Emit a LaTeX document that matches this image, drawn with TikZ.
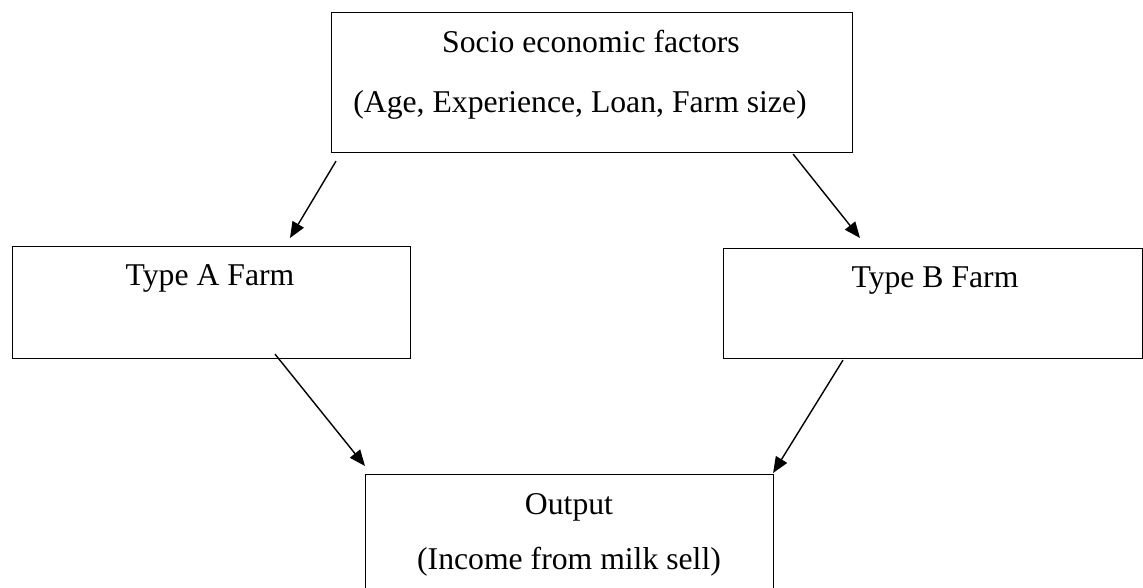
\documentclass[tikz,border=0pt]{standalone}
\usepackage{fontspec}
\setmainfont{Liberation Serif}
\usetikzlibrary{arrows.meta}
\begin{document}
\begin{tikzpicture}[x=1pt,y=-1pt,
  box/.style={draw=black, line width=1.1pt, rectangle, inner sep=0pt, anchor=north west},
  lbl/.style={anchor=base, inner sep=0pt, font=\fontsize{31.7pt}{38pt}\selectfont},
  arr/.style={line width=1.4pt, -{Triangle[length=16pt,width=13pt]}}]
\clip (0,0) rectangle (1143,587);
\fill[white] (0,0) rectangle (1143,587);
% boxes
\node[box, minimum width=521pt, minimum height=140pt] (top) at (331,12) {};
\node[box, minimum width=398pt, minimum height=112pt] (fa) at (12,246) {};
\node[box, minimum width=419pt, minimum height=110pt] (fb) at (723,248) {};
\node[box, minimum width=408pt, minimum height=170pt] (out) at (365,474) {};
% texts
\node[lbl] (t1) at (591,52) {Socio economic factors};
\node[lbl] (t2) at (580,112) {(Age, Experience, Loan, Farm size)};
\node[lbl] (ta) at (210,285) {Type A Farm};
\node[lbl] (tb) at (935,287) {Type B Farm};
\node[lbl] (to1) at (569,514) {Output};
\node[lbl] (to2) at (569,569) {(Income from milk sell)};
% connectors
\draw[arr] ([shift={(5,8)}]top.south west) -- ([shift={(278,-8)}]fa.north west);
\draw[arr] ([shift={(-60,1)}]top.south east) -- ([shift={(137,-10)}]fb.north west);
\draw[arr] ([shift={(263,-5)}]fa.south west) -- ([shift={(0,-8)}]out.north west);
\draw[arr] ([shift={(120,1)}]fb.south west) -- ([shift={(-1,-1)}]out.north east);
\end{tikzpicture}
\end{document}
